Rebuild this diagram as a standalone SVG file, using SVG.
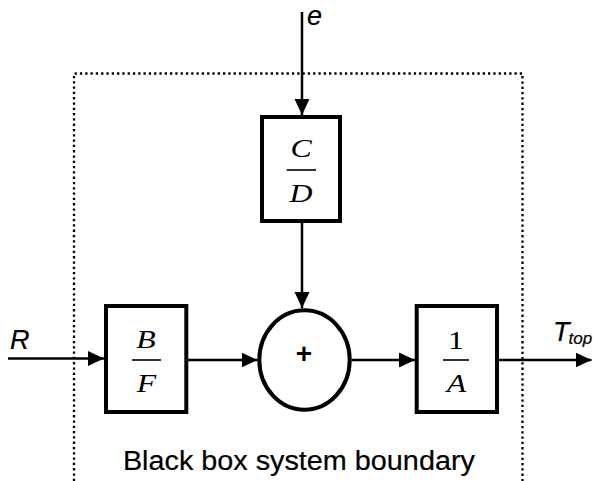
<svg xmlns="http://www.w3.org/2000/svg" width="593" height="481" viewBox="0 0 593 481">
  <style>
    .blk { fill: #fff; stroke: #000; stroke-width: 4; }
    .conn { fill: none; stroke: #000; stroke-width: 2.5; }
    .bound { fill: none; stroke: #000; stroke-width: 2.3; stroke-dasharray: 2.3 3; }
    .frac { stroke: #000; stroke-width: 1.6; }
    .math { font-family: "Liberation Serif", "Times New Roman", serif; font-size: 24.5px; font-style: italic; fill: #000; text-anchor: middle; }
    .num { font-style: normal; }
    .lab { font-family: "Liberation Sans", Arial, sans-serif; font-size: 27px; fill: #000; stroke: #000; stroke-width: 0.2; }
    .it { font-style: italic; }
  </style>
  <defs>
    <marker id="arr" markerUnits="userSpaceOnUse" markerWidth="17" markerHeight="17" viewBox="0 0 17 17" refX="16" refY="8.5" orient="auto">
      <path d="M0,1 L16,8.5 L0,16 Z" fill="#000"/>
    </marker>
  </defs>

  <path id="boundary" class="bound" d="M74,481 V73.5 H522.5 V481"/>

  <g id="connectors">
    <line class="conn" x1="302" y1="12" x2="302" y2="115" marker-end="url(#arr)"/>
    <line class="conn" x1="302" y1="223" x2="302" y2="308" marker-end="url(#arr)"/>
    <line class="conn" x1="8" y1="358.5" x2="104" y2="358.5" marker-end="url(#arr)"/>
    <line class="conn" x1="188" y1="360" x2="257.5" y2="360" marker-end="url(#arr)"/>
    <line class="conn" x1="351.5" y1="360" x2="415" y2="360" marker-end="url(#arr)"/>
    <line class="conn" x1="499" y1="360" x2="591.5" y2="360" marker-end="url(#arr)"/>
  </g>

  <g id="node-CD">
    <rect class="blk" x="262" y="117" width="78" height="104"/>
    <text class="math" transform="translate(301,157.3) scale(1.3,1)">C</text>
    <line class="frac" x1="286.7" y1="170" x2="316" y2="170"/>
    <text class="math" transform="translate(301,201.7) scale(1.3,1)">D</text>
  </g>

  <g id="node-BF">
    <rect class="blk" x="106" y="306" width="80.3" height="106"/>
    <text class="math" transform="translate(146,348.3) scale(1.3,1)">B</text>
    <line class="frac" x1="132" y1="360" x2="161" y2="360"/>
    <text class="math" transform="translate(146.5,391.7) scale(1.3,1)">F</text>
  </g>

  <g id="node-sum">
    <ellipse class="blk" cx="304.5" cy="360" rx="45.2" ry="49.7"/>
    <text x="304" y="362.6" font-family="Liberation Sans, Arial, sans-serif" font-size="28" font-weight="bold" text-anchor="middle">+</text>
  </g>

  <g id="node-A">
    <rect class="blk" x="416.7" y="306" width="80.3" height="106"/>
    <text class="math num" transform="translate(456,349.3) scale(1.3,1)">1</text>
    <line class="frac" x1="443" y1="360" x2="469" y2="360"/>
    <text class="math" transform="translate(456.5,391.7) scale(1.3,1)">A</text>
  </g>

  <g id="labels">
    <text class="lab it" x="307" y="25">e</text>
    <text class="lab it" x="10" y="349.3">R</text>
    <text class="lab it" x="553" y="340.7">T<tspan font-size="17" dx="-1" dy="3.3">top</tspan></text>
    <text class="lab" x="298.9" y="470" font-size="26" text-anchor="middle" textLength="352" lengthAdjust="spacingAndGlyphs">Black box system boundary</text>
  </g>
</svg>
